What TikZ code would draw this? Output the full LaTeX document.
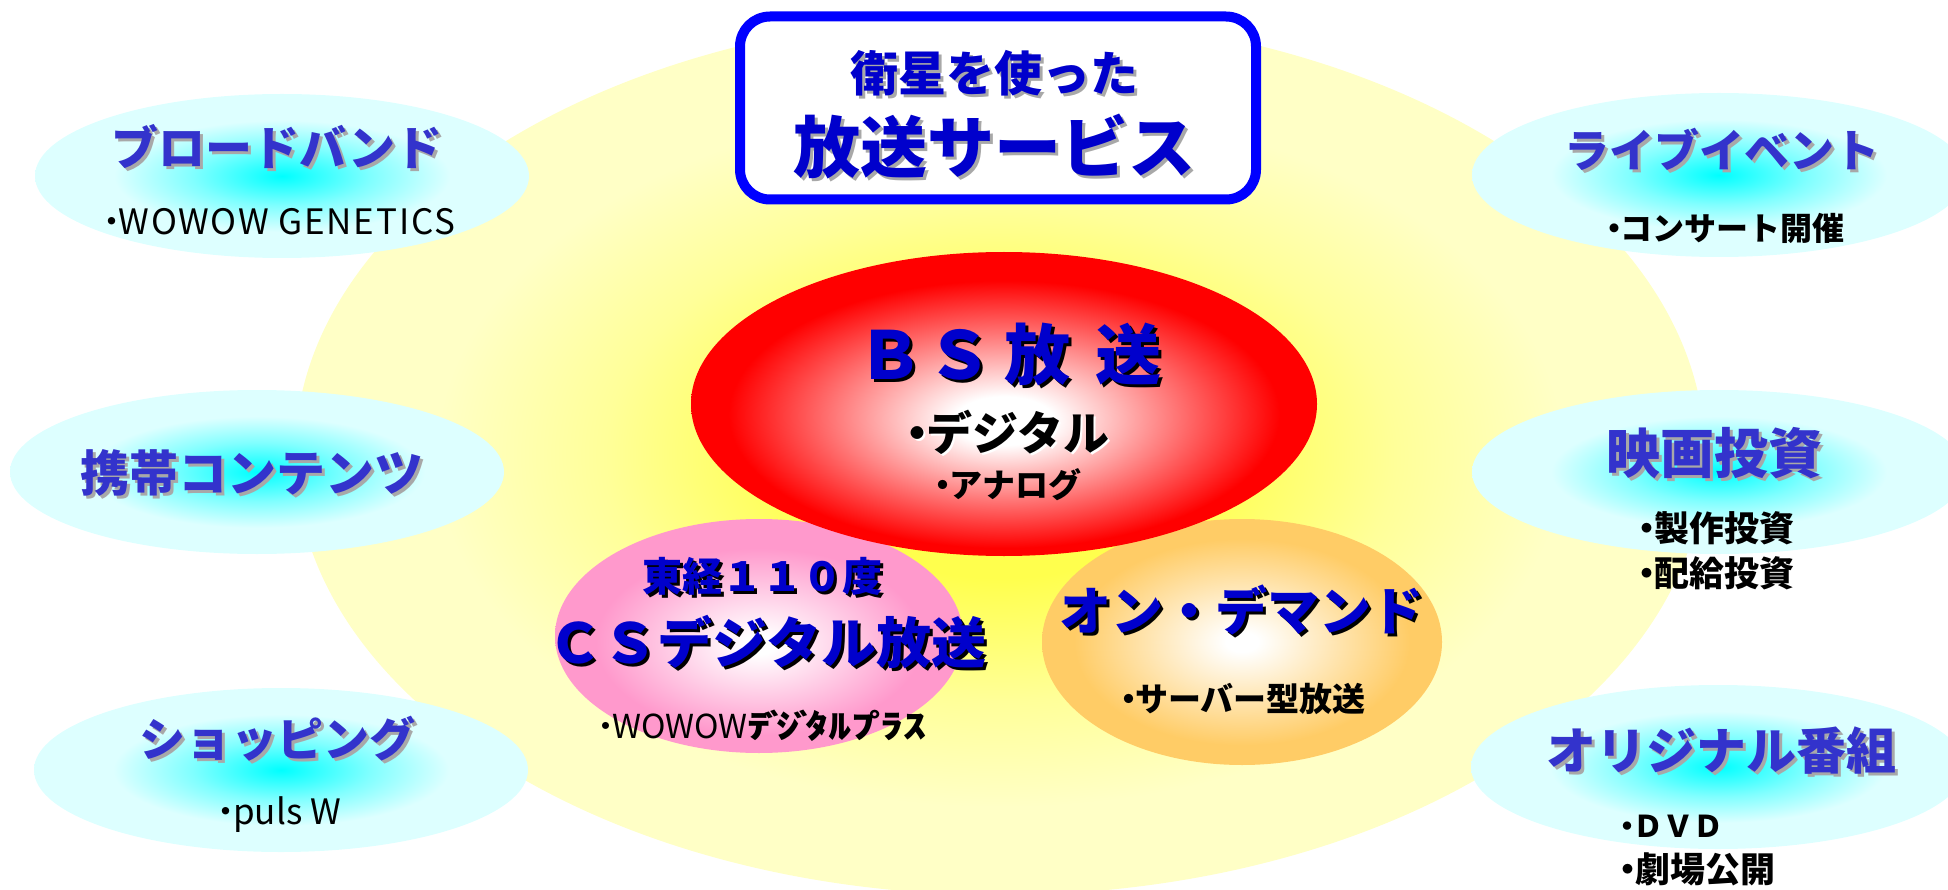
\documentclass[tikz,border=0pt]{standalone}
\usepackage{fontspec}
\setmainfont{Noto Sans CJK JP}
\usepackage{graphicx}
\usetikzlibrary{shapes.geometric}
\definecolor{tblue}{HTML}{0000CC}
\definecolor{sblue}{HTML}{3333CC}
\definecolor{bborder}{HTML}{0000FF}
\definecolor{shgray}{HTML}{A8A8A8}
\definecolor{yc}{HTML}{FFFF4D}
\definecolor{ym}{HTML}{FFFF99}
\definecolor{ye}{HTML}{FFFFC6}
\definecolor{rr}{HTML}{FF0000}
\definecolor{pk}{HTML}{FF99CC}
\definecolor{og}{HTML}{FFCC66}
\definecolor{cy}{HTML}{00FFFF}
\definecolor{cm}{HTML}{80FFFF}
\definecolor{cyl}{HTML}{DDFFFF}
\pgfdeclareradialshading{yelsh}{\pgfpoint{0bp}{0bp}}{color(0bp)=(yc); color(7bp)=(yc); color(14bp)=(ym); color(20bp)=(ye); color(50bp)=(ye)}
\pgfdeclareradialshading{redsh}{\pgfpoint{0bp}{-3bp}}{color(0bp)=(white); color(4bp)=(white); color(22bp)=(rr); color(50bp)=(rr)}
\pgfdeclareradialshading{pinksh}{\pgfpoint{0bp}{-2bp}}{color(0bp)=(white); color(2bp)=(white); color(20bp)=(pk); color(50bp)=(pk)}
\pgfdeclareradialshading{orangesh}{\pgfpoint{0bp}{0bp}}{color(0bp)=(white); color(2bp)=(white); color(21bp)=(og); color(50bp)=(og)}
\pgfdeclareradialshading{cyansh}{\pgfpoint{0bp}{0bp}}{color(0bp)=(cy); color(9bp)=(cm); color(17bp)=(cyl); color(50bp)=(cyl)}
\newcommand{\shtxt}[3]{\leavevmode\rlap{\kern#2\raisebox{-#2}{\textcolor{#1}{#3}}}#3}
\newcommand{\fsz}[1]{\fontsize{#1}{#1}\selectfont}
\newcommand{\bu}{\kern-0.3em・\kern-0.3em}
\tikzset{
  blob/.style={ellipse, inner sep=0pt, shade},
  sideell/.style={blob, shading=cyansh, minimum width=494pt, minimum height=164pt},
  sidetitle/.style={text=sblue, inner sep=0pt},
  maintitle/.style={text=tblue, inner sep=0pt},
  subtext/.style={text=black, inner sep=0pt},
}
\begin{document}
\begin{tikzpicture}[x=1pt,y=-1pt]
\useasboundingbox (0,0) rectangle (1948,890);
\clip (0,0) rectangle (1948,890);
% background ellipse
\node[blob, shading=yelsh, minimum width=1410pt, minimum height=880pt] (bg) at (1000,455) {};
% title box
\node[draw=bborder, line width=10pt, rounded corners=30pt, fill=white, minimum width=516pt, minimum height=183pt] (titlebox) at (998,108) {};
\node[maintitle, font=\bfseries\fsz{48}] (t1) at (994,75) {\shtxt{shgray}{3pt}{衛星を使った}};
\node[maintitle, font=\bfseries\fsz{67}] (t2) at (994,148) {\shtxt{shgray}{3pt}{放送サービス}};
% side ellipses
\node[sideell] (bb) at (282,176) {};
\node[sideell] (mc) at (257,472) {};
\node[sideell] (sh) at (281,770) {};
\node[sideell] (lv) at (1719,175) {};
\node[sideell] (mv) at (1719,472) {};
\node[sideell] (og) at (1718,767) {};
% centre ellipses
\node[blob, shading=pinksh, minimum width=408pt, minimum height=234pt] (cs) at (759,636) {};
\node[blob, shading=orangesh, minimum width=400pt, minimum height=246pt] (od) at (1242,642) {};
\node[blob, shading=redsh, minimum width=626pt, minimum height=304pt] (bs) at (1004,404) {};
% side texts
\node[sidetitle, font=\bfseries\fsz{47}] (bbT) at (277,148) {\shtxt{shgray}{3pt}{ブロードバンド}};
\node[subtext, font=\fsz{35}\addfontfeature{LetterSpace=5}] (bbS) at (280,222) {\bu WOWOW GENETICS};
\node[sidetitle, font=\bfseries\fsz{49}] (mcT) at (252,474) {\shtxt{shgray}{3pt}{携帯コンテンツ}};
\node[sidetitle, font=\bfseries\fsz{46}] (shT) at (277,740) {\shtxt{shgray}{3pt}{ショッピング}};
\node[subtext, font=\fsz{35}] (shS) at (280,815) {\bu puls W};
\node[sidetitle, font=\bfseries\fsz{45}] (lvT) at (1722,151) {\shtxt{shgray}{3pt}{ライブイベント}};
\node[subtext, font=\bfseries\fsz{32}] (lvS) at (1726,228) {\bu コンサート開催};
\node[sidetitle, font=\bfseries\fsz{54}] (mvT) at (1714,455) {\shtxt{shgray}{3pt}{映画投資}};
\node[subtext, font=\bfseries\fsz{35}] (mvS1) at (1717,528) {\bu 製作投資};
\node[subtext, font=\bfseries\fsz{35}] (mvS2) at (1717,573) {\bu 配給投資};
\node[sidetitle, font=\bfseries\fsz{50}] (ogT) at (1721,752) {\shtxt{shgray}{3pt}{オリジナル番組}};
\node[subtext, font=\bfseries\fsz{30}, anchor=west] (ogS1) at (1621,826) {\bu ＤＶＤ};
\node[subtext, font=\bfseries\fsz{35}, anchor=west] (ogS2) at (1621,869) {\bu 劇場公開};
% centre texts
\node[maintitle, font=\bfseries\fsz{66}] (bsT) at (1009,356) {\shtxt{black}{3pt}{Ｂ\hspace{4pt}Ｓ\hspace{12pt}放\hspace{24pt}送}};
\node[subtext, font=\bfseries\fsz{46}] (bsS1) at (1009,433) {\shtxt{white}{2pt}{\bu デジタル}};
\node[subtext, font=\bfseries\fsz{33}] (bsS2) at (1009,485) {\bu アナログ};
\node[maintitle, font=\bfseries\fsz{40}] (csT1) at (762,578) {\shtxt{black}{3pt}{東経１１０度}};
\node[maintitle, font=\bfseries\fsz{55}] (csT2) at (767,644) {\shtxt{black}{3pt}{ＣＳデジタル放送}};
\node[subtext, font=\fsz{33}] (csS) at (763,726) {\bu WOWOW{\bfseries\scalebox{1.4}[1]{ﾃ\kern-0.12emﾞ\kern-0.25emｼ\kern-0.12emﾞ\kern-0.25emﾀﾙﾌ\kern-0.12emﾟ\kern-0.25emﾗｽ}}};
\node[maintitle, font=\bfseries\fsz{52}] (odT) at (1241,611) {\shtxt{black}{3pt}{オン・デマンド}};
\node[subtext, font=\bfseries\fsz{33}] (odS) at (1244,699) {\bu サーバー型放送};
\end{tikzpicture}
\end{document}
